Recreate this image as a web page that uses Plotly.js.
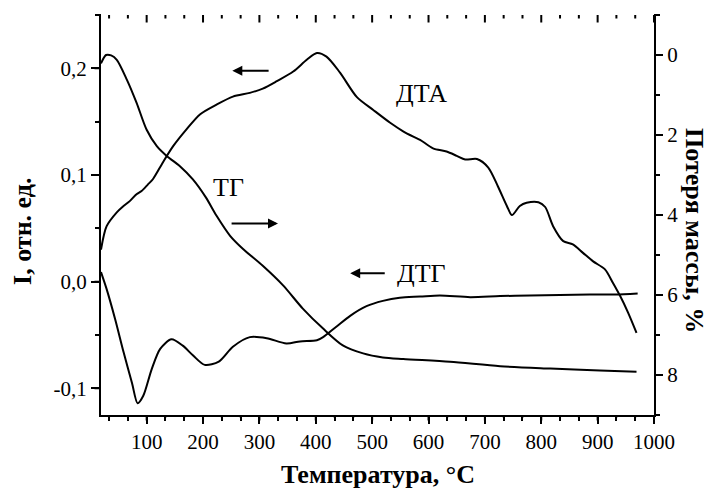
<!DOCTYPE html>
<html>
<head>
<meta charset="utf-8">
<script src="https://cdn.plot.ly/plotly-3.0.1.min.js"></script>
<style>html,body{margin:0;padding:0;background:#fff;}#chart{width:713px;height:490px;}</style>
</head>
<body>
<div id="chart"></div>
<script>
// ДТА (left axis, I, отн. ед.)
const dtaT = [19, 29, 47, 58, 70, 82, 91, 102, 111, 129, 147, 171, 195, 224, 253, 283, 306, 331, 360, 384, 402, 419, 443, 473, 502, 532, 555, 573, 585, 608, 632, 650, 665, 686, 706, 723, 739, 748, 762, 774, 795, 807, 821, 839, 856, 874, 892, 913, 927, 940, 954, 969];
const dtaI = [0.030, 0.052, 0.065, 0.0705, 0.0755, 0.082, 0.085, 0.091, 0.096, 0.112, 0.127, 0.143, 0.157, 0.166, 0.1735, 0.177, 0.181, 0.188, 0.197, 0.208, 0.2144, 0.211, 0.196, 0.173, 0.161, 0.149, 0.141, 0.136, 0.133, 0.125, 0.122, 0.118, 0.1145, 0.115, 0.107, 0.0895, 0.071, 0.0624, 0.071, 0.074, 0.0745, 0.070, 0.052, 0.038, 0.035, 0.027, 0.019, 0.0115, -0.001, -0.0135, -0.029, -0.048];
// ТГ (right axis, Потеря массы, %)
const tgT = [19, 28, 37, 47, 65, 82, 100, 118, 136, 159, 182, 205, 224, 248, 271, 306, 342, 377, 413, 448, 484, 519, 555, 638, 727, 816, 904, 969];
const tgLoss = [0.21, 0.0, 0.01, 0.12, 0.62, 1.19, 1.87, 2.28, 2.53, 2.78, 3.11, 3.56, 4.02, 4.52, 4.85, 5.27, 5.76, 6.34, 6.84, 7.26, 7.46, 7.56, 7.60, 7.67, 7.78, 7.84, 7.89, 7.92];
// ДТГ (left axis)
const dtgT = [19, 29, 44, 59, 74, 84, 94, 109, 124, 144, 164, 182, 203, 228, 253, 283, 313, 348, 372, 402, 413, 437, 461, 490, 519, 549, 585, 620, 674, 727, 780, 833, 886, 931, 971];
const dtgI = [0.009, -0.007, -0.035, -0.066, -0.095, -0.114, -0.107, -0.082, -0.063, -0.054, -0.060, -0.069, -0.078, -0.075, -0.061, -0.052, -0.053, -0.058, -0.056, -0.055, -0.052, -0.042, -0.032, -0.023, -0.018, -0.015, -0.014, -0.013, -0.0145, -0.0135, -0.013, -0.0125, -0.012, -0.012, -0.011];

// tick positions and labels
const xTickVals = [100, 200, 300, 400, 500, 600, 700, 800, 900, 1000];
const xMinorVals = [33.3, 66.7, 133.3, 166.7, 233.3, 266.7, 333.3, 366.7, 433.3, 466.7, 533.3, 566.7, 633.3, 666.7, 733.3, 766.7, 833.3, 866.7, 933.3, 966.7];
const yTickVals = [-0.1, 0.0, 0.1, 0.2];
const yTickText = ["-0,1", "0,0", "0,1", "0,2"];
const yMinorVals = [-0.05, 0.05, 0.15, 0.25];
const y2TickVals = [0, 2, 4, 6, 8];
const y2MinorVals = [-1, 1, 3, 5, 7, 9];

const W = 713, H = 490, M = {l: 101, r: 59, t: 15, b: 75};
const PW = W - M.l - M.r, PH = H - M.t - M.b;
const XR = [19, 1000], YR = [-0.125, 0.25], Y2R = [9, -1];
const FONT = "Liberation Serif, Times New Roman, serif";
const line = {color: '#000', width: 2, shape: 'spline', smoothing: 0.8};

const traces = [
  {x: dtaT, y: dtaI, mode: 'lines', line: line, xaxis: 'x', yaxis: 'y', hoverinfo: 'skip'},
  {x: tgT, y: tgLoss, mode: 'lines', line: line, xaxis: 'x', yaxis: 'y2', hoverinfo: 'skip'},
  {x: dtgT, y: dtgI, mode: 'lines', line: line, xaxis: 'x', yaxis: 'y', hoverinfo: 'skip'}
];

// tick marks as headless annotation segments in axis coordinates (pixel lengths converted to axis units)
const dxPx = (XR[1] - XR[0]) / PW, dyPx = (YR[1] - YR[0]) / PH, dy2Px = (Y2R[0] - Y2R[1]) / PH;
function seg(yref, x0, y0, x1, y1) {
  return {text: '', xref: 'x', yref: yref, axref: 'x', ayref: yref, x: x1, y: y1, ax: x0, ay: y0,
    showarrow: true, arrowhead: 0, arrowwidth: 2, arrowcolor: '#000'};
}
const tickSegs = [].concat(
  xTickVals.map(v => seg('y', v, YR[0] - 7 * dyPx, v, YR[0])),
  xMinorVals.map(v => seg('y', v, YR[0] - 4 * dyPx, v, YR[0])),
  xTickVals.map(v => seg('y', v, YR[1] - 9 * dyPx, v, YR[1])),
  xMinorVals.map(v => seg('y', v, YR[1] - 5 * dyPx, v, YR[1])),
  yTickVals.map(v => seg('y', XR[0] - 8 * dxPx, v, XR[0], v)),
  yMinorVals.map(v => seg('y', XR[0] - 4 * dxPx, v, XR[0], v)),
  y2TickVals.map(v => seg('y2', XR[1] + 7 * dxPx, v, XR[1], v)),
  y2MinorVals.map(v => seg('y2', XR[1] + 4 * dxPx, v, XR[1], v)),
  [seg('y', XR[0] - dxPx, YR[1] + dyPx, XR[1] + dxPx, YR[1] + dyPx)]
);

const tickFont = {family: FONT, size: 21, color: '#000'};
function ax(extra, minorVals, minorLen) {
  return Object.assign({showgrid: false, zeroline: false, showline: true, linecolor: '#000', linewidth: 2,
    ticks: 'outside', tickcolor: '#000', tickwidth: 2, tickfont: tickFont, automargin: false, tickmode: 'array',
    minor: {tickmode: 'array', tickvals: minorVals, ticks: 'outside', ticklen: minorLen, tickcolor: '#000', tickwidth: 2, showgrid: false}}, extra);
}

const layout = {
  width: W, height: H, margin: M,
  paper_bgcolor: '#fff', plot_bgcolor: '#fff',
  showlegend: false,
  font: {family: FONT, color: '#000'},
  xaxis: ax({range: XR, tickvals: xTickVals, ticklen: 7}, xMinorVals, 4),
  yaxis: ax({range: YR, tickvals: yTickVals, ticktext: yTickText, ticklen: 8}, yMinorVals, 4),
  yaxis2: ax({range: Y2R, overlaying: 'y', side: 'right', anchor: 'x', tickvals: y2TickVals, ticklen: 7}, y2MinorVals, 4),
  annotations: [
    {text: 'Температура, °C', xref: 'paper', yref: 'paper', x: 0.5, y: -0.148, xanchor: 'center', yanchor: 'middle',
      showarrow: false, font: {family: FONT, size: 26, color: '#000', weight: 'bold'}},
    {text: 'I, отн. ед.', xref: 'paper', yref: 'paper', x: -0.143, y: 0.46, xanchor: 'center', yanchor: 'middle',
      textangle: -90, showarrow: false, font: {family: FONT, size: 26, color: '#000', weight: 'bold'}},
    {text: 'Потеря массы, %', xref: 'paper', yref: 'paper', x: 1.074, y: 0.46, xanchor: 'center', yanchor: 'middle',
      textangle: 90, showarrow: false, font: {family: FONT, size: 26, color: '#000', weight: 'bold'}},
    {text: 'ДТА', x: 588, y: 0.176, xref: 'x', yref: 'y', showarrow: false, font: {family: FONT, size: 26, color: '#000'}},
    {text: 'ТГ', x: 246, y: 0.088, xref: 'x', yref: 'y', showarrow: false, font: {family: FONT, size: 26, color: '#000'}},
    {text: 'ДТГ', x: 588, y: 0.0078, xref: 'x', yref: 'y', showarrow: false, font: {family: FONT, size: 26, color: '#000'}},
    {text: '', x: 252, y: 0.1978, ax: 319, ay: 0.1978, xref: 'x', yref: 'y', axref: 'x', ayref: 'y',
      showarrow: true, arrowhead: 2, arrowsize: 1, arrowwidth: 2, arrowcolor: '#000'},
    {text: '', x: 333, y: 0.0546, ax: 248, ay: 0.0546, xref: 'x', yref: 'y', axref: 'x', ayref: 'y',
      showarrow: true, arrowhead: 2, arrowsize: 1, arrowwidth: 2, arrowcolor: '#000'},
    {text: '', x: 461, y: 0.0078, ax: 525, ay: 0.0078, xref: 'x', yref: 'y', axref: 'x', ayref: 'y',
      showarrow: true, arrowhead: 2, arrowsize: 1, arrowwidth: 2, arrowcolor: '#000'}
  ].concat(tickSegs)
};

Plotly.newPlot('chart', traces, layout, {staticPlot: true, displayModeBar: false});
</script>
</body>
</html>
